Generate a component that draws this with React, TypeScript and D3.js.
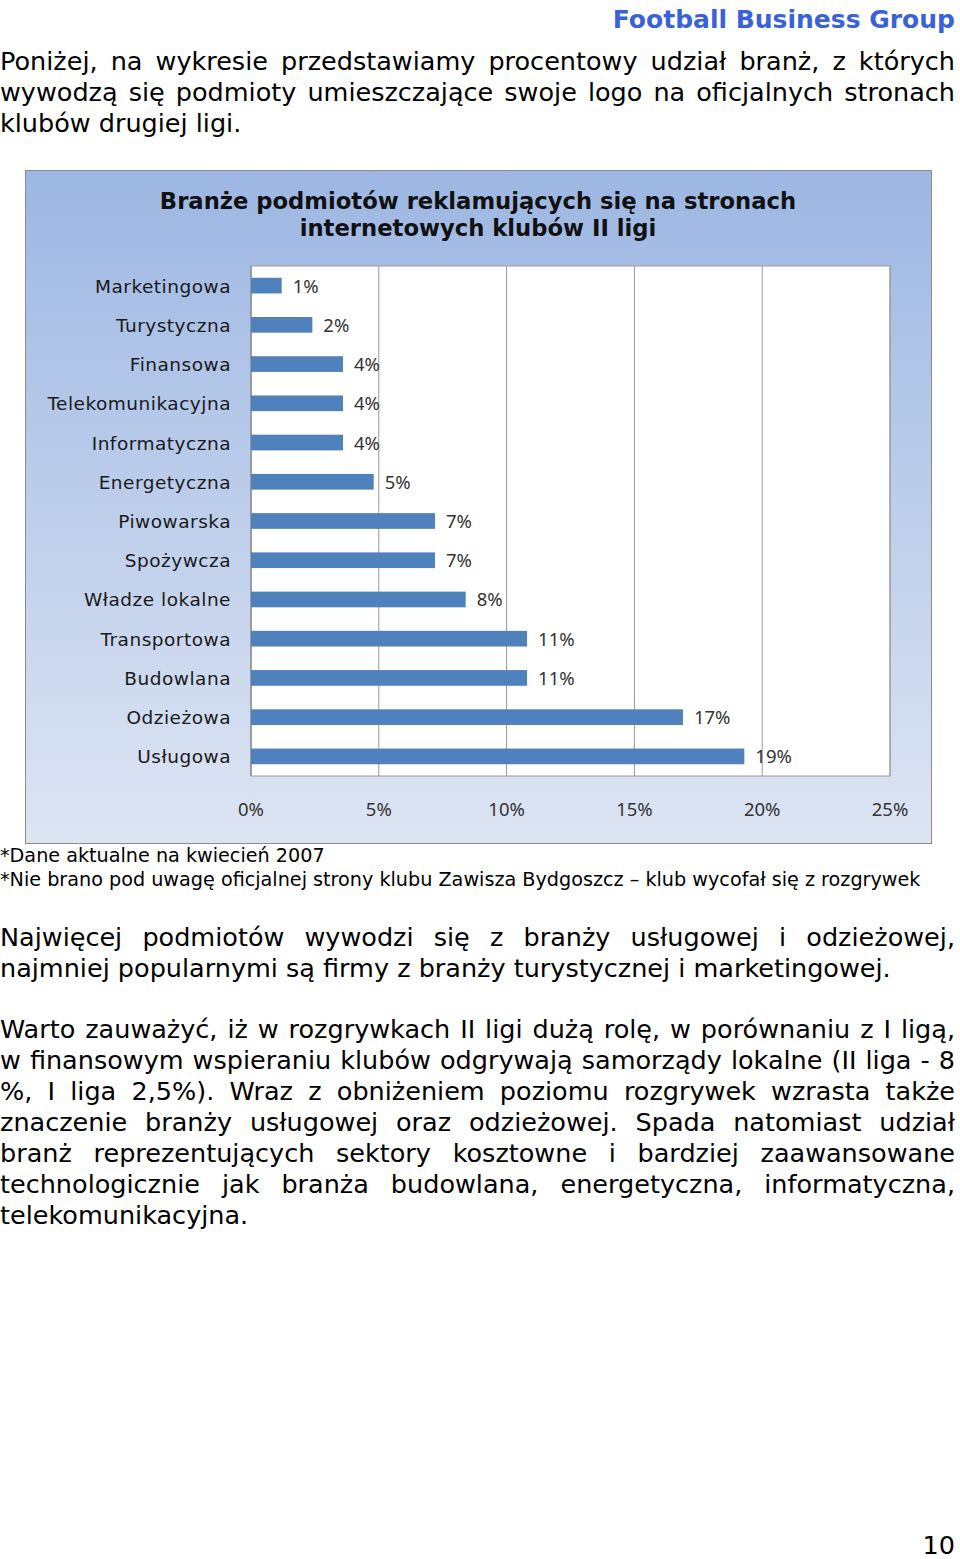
import { useEffect, useRef } from "react";
import * as d3 from "d3";

const categories = [
  "Marketingowa",
  "Turystyczna",
  "Finansowa",
  "Telekomunikacyjna",
  "Informatyczna",
  "Energetyczna",
  "Piwowarska",
  "Spożywcza",
  "Władze lokalne",
  "Transportowa",
  "Budowlana",
  "Odzieżowa",
  "Usługowa",
];
// udział w % (etykiety zaokrąglone jak w oryginale)
const shares = [1.2, 2.4, 3.6, 3.6, 3.6, 4.8, 7.2, 7.2, 8.4, 10.8, 10.8, 16.9, 19.3];
const xTicks = [0, 5, 10, 15, 20, 25];

const chartTitle = [
  "Branże podmiotów reklamujących się na stronach",
  "internetowych klubów II ligi",
];

const intro = [
  "Poniżej, na wykresie przedstawiamy procentowy udział branż, z których",
  "wywodzą się podmioty umieszczające swoje logo na oficjalnych stronach",
  "klubów drugiej ligi.",
];
const notes = [
  "*Dane aktualne na kwiecień 2007",
  "*Nie brano pod uwagę oficjalnej strony klubu Zawisza Bydgoszcz – klub wycofał się z rozgrywek",
];
const para2 = [
  "Najwięcej podmiotów wywodzi się z branży usługowej i odzieżowej,",
  "najmniej popularnymi są firmy z branży turystycznej i marketingowej.",
];
const para3 = [
  "Warto zauważyć, iż w rozgrywkach II ligi dużą rolę, w porównaniu z I ligą,",
  "w finansowym wspieraniu klubów odgrywają samorządy lokalne (II liga - 8",
  "%, I liga 2,5%). Wraz z obniżeniem poziomu rozgrywek wzrasta także",
  "znaczenie branży usługowej oraz odzieżowej. Spada natomiast udział",
  "branż reprezentujących sektory kosztowne i bardziej zaawansowane",
  "technologicznie jak branża budowlana, energetyczna, informatyczna,",
  "telekomunikacyjna.",
];

const BODY_FONT = "'DejaVu Sans', Verdana, sans-serif";
const CHART_FONT = "'Noto Sans', 'Open Sans', sans-serif";
const TEXT_RIGHT = 955;
const BODY_SIZE = 25.5;

function Paragraph({ lines, y0, lh }: { lines: string[]; y0: number; lh: number }) {
  return (
    <>
      {lines.map((l, i) => (
        <text
          key={i}
          className={i < lines.length - 1 ? "justify" : undefined}
          x={0}
          y={y0 + i * lh}
          fontSize={BODY_SIZE}
          fill="#000"
        >
          {l}
        </text>
      ))}
    </>
  );
}

export default function App() {
  const ref = useRef<SVGSVGElement>(null);

  // rozciągnięcie wierszy do pełnej szerokości (justowanie)
  useEffect(() => {
    if (!ref.current) return;
    d3.select(ref.current)
      .selectAll<SVGTextElement, unknown>("text.justify")
      .each(function () {
        const w = this.getComputedTextLength();
        const spaces = (this.textContent || "").split(" ").length - 1;
        if (spaces > 0) {
          d3.select(this).style("word-spacing", `${(TEXT_RIGHT - w) / spaces}px`);
        }
      });
  }, []);

  const x = d3.scaleLinear().domain([0, 25]).range([251, 890]);
  const y = d3
    .scaleBand()
    .domain(categories)
    .range([266, 776])
    .paddingInner(0.6)
    .paddingOuter(0.3);
  const fmt = d3.format(".0%");

  return (
    <svg
      ref={ref}
      width={960}
      height={1559}
      style={{ position: "absolute", left: 0, top: 0, fontFamily: BODY_FONT }}
    >
      <defs>
        <linearGradient id="bg" x1="0" y1="0" x2="0" y2="1">
          <stop offset="0%" stopColor="#9db7e3" />
          <stop offset="100%" stopColor="#dde5f3" />
        </linearGradient>
      </defs>
      <rect width={960} height={1559} fill="#fff" />

      <text
        x={TEXT_RIGHT}
        y={28}
        textAnchor="end"
        fontSize={25}
        fontWeight="bold"
        fill="#3a62d8"
      >
        Football Business Group
      </text>

      <Paragraph lines={intro} y0={70} lh={31} />

      {/* wykres */}
      <rect x={25.5} y={170.5} width={906} height={673} fill="url(#bg)" stroke="#8c8c8c" />
      {chartTitle.map((t, i) => (
        <text
          key={i}
          x={478}
          y={209 + i * 27}
          textAnchor="middle"
          fontSize={22.7}
          fontWeight="bold"
          fill="#111"
        >
          {t}
        </text>
      ))}
      <rect x={251} y={266} width={639} height={510} fill="#fff" stroke="#999" />
      {xTicks.map((t) => (
        <line key={t} x1={x(t)} x2={x(t)} y1={266} y2={776} stroke="#999" />
      ))}
      <line x1={251} x2={251} y1={266} y2={776} stroke="#8a8a8a" />
      {categories.map((c, i) => (
        <g key={c}>
          <rect
            x={x(0)}
            y={y(c)}
            width={x(shares[i]) - x(0)}
            height={y.bandwidth()}
            fill="#4f81bd"
          />
          <text
            x={x(shares[i]) + 11}
            y={(y(c) ?? 0) + y.bandwidth() / 2 + 7}
            fontFamily={CHART_FONT}
            fontSize={18.5}
            fill="#333"
          >
            {fmt(shares[i] / 100)}
          </text>
          <text
            x={231}
            y={(y(c) ?? 0) + y.bandwidth() / 2 + 7}
            textAnchor="end"
            fontSize={18.5}
            letterSpacing={0.5}
            fill="#1a1a1a"
          >
            {c}
          </text>
        </g>
      ))}
      {xTicks.map((t) => (
        <text
          key={t}
          x={x(t)}
          y={816}
          textAnchor="middle"
          fontFamily={CHART_FONT}
          fontSize={18.5}
          fill="#333"
        >
          {t}%
        </text>
      ))}

      {notes.map((n, i) => (
        <text key={i} x={0} y={862 + i * 24} fontSize={19.2} fill="#000">
          {n}
        </text>
      ))}

      <Paragraph lines={para2} y0={946} lh={31} />
      <Paragraph lines={para3} y0={1038} lh={31} />

      <text x={TEXT_RIGHT} y={1554} textAnchor="end" fontSize={BODY_SIZE} fill="#000">
        10
      </text>
    </svg>
  );
}
